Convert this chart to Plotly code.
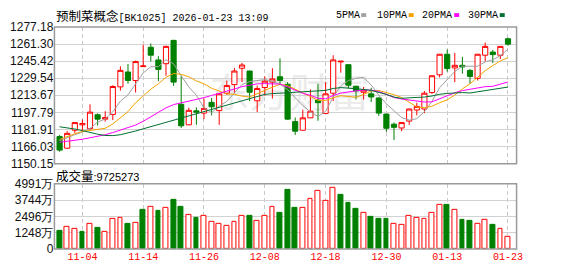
import plotly.graph_objects as go

# ---------------- data ----------------
dates = ["10-30", "10-31", "11-03", "11-04", "11-05", "11-06", "11-07", "11-10", "11-11", "11-12",
         "11-13", "11-14", "11-17", "11-18", "11-19", "11-20", "11-21", "11-24", "11-25", "11-26",
         "11-27", "11-28", "12-01", "12-02", "12-03", "12-04", "12-05", "12-08", "12-09", "12-10",
         "12-11", "12-12", "12-15", "12-16", "12-17", "12-18", "12-19", "12-22", "12-23", "12-24",
         "12-25", "12-26", "12-29", "12-30", "12-31", "01-05", "01-06", "01-07", "01-08", "01-09",
         "01-12", "01-13", "01-14", "01-15", "01-16", "01-19", "01-20", "01-21", "01-22", "01-23"]

opens = [1175.3, 1164.5, 1181.2, 1186.2, 1182.7, 1195.6, 1191.5, 1195.9, 1221.5, 1235.3,
         1227.4, 1240.3, 1258.3, 1246.5, 1243.0, 1264.7, 1205.3, 1186.2, 1199.2, 1197.1,
         1207.1, 1199.4, 1215.6, 1223.6, 1238.8, 1236.2, 1208.6, 1220.9, 1225.9, 1230.9,
         1223.9, 1189.2, 1181.2, 1192.7, 1209.2, 1196.8, 1215.6, 1244.7, 1242.1, 1222.1,
         1216.5, 1215.0, 1211.2, 1196.2, 1186.8, 1183.3, 1189.7, 1200.0, 1200.9, 1216.2,
         1232.7, 1251.8, 1239.1, 1241.5, 1236.8, 1229.4, 1250.9, 1253.8, 1250.9, 1266.2]

highs = [1176.8, 1180.3, 1188.3, 1191.2, 1205.3, 1196.8, 1198.9, 1223.0, 1240.6, 1242.7,
         1245.9, 1260.6, 1261.8, 1250.0, 1259.7, 1265.2, 1232.0, 1202.1, 1202.4, 1210.6,
         1211.2, 1215.0, 1227.4, 1239.1, 1243.8, 1236.5, 1222.7, 1231.2, 1238.8, 1248.0,
         1225.9, 1193.0, 1200.3, 1219.1, 1224.4, 1225.9, 1250.9, 1245.6, 1242.4, 1222.4,
         1221.5, 1220.6, 1211.5, 1196.5, 1188.3, 1188.6, 1201.2, 1206.8, 1217.7, 1232.1,
         1252.1, 1256.2, 1253.0, 1249.4, 1238.2, 1252.1, 1262.7, 1255.9, 1259.4, 1267.1]

lows = [1161.2, 1164.2, 1178.6, 1180.3, 1181.8, 1185.6, 1189.2, 1190.6, 1218.0, 1224.4,
        1216.2, 1240.0, 1245.0, 1226.8, 1231.8, 1222.4, 1183.3, 1185.9, 1186.2, 1191.5,
        1195.0, 1186.2, 1214.1, 1215.6, 1225.9, 1208.3, 1198.0, 1213.3, 1210.6, 1223.0,
        1191.0, 1176.8, 1180.9, 1192.4, 1190.0, 1196.5, 1208.3, 1234.7, 1220.0, 1209.7,
        1209.7, 1207.4, 1194.5, 1179.7, 1172.1, 1180.3, 1186.2, 1195.0, 1197.1, 1215.0,
        1230.3, 1235.6, 1225.9, 1233.8, 1224.4, 1227.4, 1245.0, 1243.6, 1247.4, 1259.7]

closes = [1162.7, 1178.3, 1188.3, 1187.4, 1198.0, 1191.5, 1193.0, 1221.8, 1236.8, 1227.4,
          1245.0, 1240.9, 1250.9, 1237.7, 1259.1, 1225.9, 1185.3, 1199.7, 1198.0, 1201.5,
          1203.0, 1215.0, 1222.7, 1236.2, 1241.8, 1216.5, 1220.0, 1226.8, 1228.8, 1227.4,
          1191.5, 1180.3, 1192.7, 1198.9, 1206.8, 1215.0, 1246.5, 1245.3, 1223.0, 1217.7,
          1218.6, 1212.1, 1197.1, 1183.0, 1183.9, 1188.3, 1200.9, 1203.3, 1215.6, 1231.8,
          1251.8, 1238.5, 1241.5, 1240.0, 1231.2, 1251.8, 1259.1, 1251.5, 1259.1, 1261.2]

ma5 = [1171.5, 1174.5, 1177.0, 1179.5, 1182.9, 1188.7, 1191.6, 1198.3, 1208.2, 1214.1,
       1224.8, 1234.4, 1240.2, 1240.4, 1246.7, 1242.9, 1231.8, 1221.5, 1213.6, 1202.1,
       1197.5, 1203.4, 1208.0, 1215.7, 1223.7, 1226.4, 1227.4, 1228.3, 1226.8, 1223.9,
       1218.9, 1211.0, 1204.1, 1198.2, 1194.0, 1198.7, 1212.0, 1222.5, 1227.3, 1229.5,
       1230.2, 1223.3, 1213.7, 1205.7, 1198.9, 1192.9, 1190.6, 1191.9, 1198.4, 1208.0,
       1220.7, 1228.2, 1235.8, 1240.7, 1240.6, 1240.6, 1244.7, 1246.7, 1250.5, 1256.5]

ma10 = [1172.5, 1175.5, 1178.0, 1180.0, 1181.0, 1182.0, 1183.0, 1187.0, 1193.0, 1198.5,
        1206.8, 1213.0, 1219.3, 1224.3, 1230.4, 1233.9, 1233.1, 1230.9, 1227.0, 1224.4,
        1220.2, 1217.6, 1214.8, 1214.6, 1212.9, 1212.0, 1215.4, 1218.2, 1221.2, 1223.8,
        1222.7, 1219.2, 1216.2, 1212.5, 1209.0, 1208.8, 1211.5, 1213.3, 1212.7, 1211.8,
        1214.5, 1217.7, 1218.1, 1216.5, 1214.2, 1211.6, 1207.0, 1202.8, 1202.1, 1203.5,
        1206.8, 1209.4, 1213.9, 1219.6, 1224.3, 1230.6, 1236.5, 1241.3, 1245.6, 1248.6]

ma20 = [1170.0, 1170.8, 1171.6, 1172.8, 1174.2, 1175.5, 1177.0, 1179.0, 1181.5, 1183.5,
        1186.0, 1189.5, 1193.5, 1197.5, 1202.0, 1205.0, 1206.5, 1208.0, 1209.8, 1211.5,
        1213.5, 1215.3, 1217.0, 1219.5, 1221.7, 1222.9, 1224.3, 1224.5, 1224.1, 1224.1,
        1221.4, 1218.4, 1215.5, 1213.6, 1210.9, 1210.4, 1213.5, 1215.7, 1217.0, 1217.8,
        1218.6, 1218.4, 1217.2, 1214.5, 1211.6, 1210.2, 1209.2, 1208.1, 1207.4, 1207.6,
        1210.6, 1213.5, 1216.0, 1218.0, 1219.3, 1221.1, 1221.7, 1222.0, 1223.8, 1226.0]

ma30 = [1184.4, 1183.5, 1182.3, 1180.8, 1179.0, 1177.5, 1176.3, 1176.2, 1177.0, 1178.5,
        1180.5, 1182.5, 1184.5, 1186.5, 1189.0, 1191.0, 1193.0, 1195.0, 1197.0, 1199.0,
        1201.0, 1203.0, 1205.0, 1207.0, 1209.0, 1211.0, 1213.0, 1214.5, 1215.2, 1215.6,
        1216.5, 1216.6, 1216.8, 1217.1, 1217.4, 1218.2, 1220.0, 1220.8, 1220.3, 1220.0,
        1219.1, 1218.2, 1216.4, 1214.5, 1212.0, 1210.8, 1211.3, 1211.4, 1212.0, 1213.0,
        1214.6, 1215.4, 1216.1, 1216.2, 1215.8, 1217.0, 1218.3, 1219.1, 1220.1, 1221.3]

volumes = [1412, 1680, 1534, 1339, 1899, 1631, 1339, 2338, 2411, 1924,
           1997, 2995, 3214, 2922, 3117, 3799, 3214, 2630, 2411, 2532,
           2045, 1899, 1802, 2045, 2532, 2557, 2167, 2532, 3214, 2776,
           4529, 3141, 3117, 3847, 4432, 3653, 4675, 4164, 3506, 3068,
           2776, 2484, 2338, 2338, 1899, 1826, 2557, 2411, 2338, 2776,
           3360, 3385, 2995, 2265, 2192, 1899, 2265, 1826, 1534, 972.5273]

price_ticks = [1150.15, 1166.03, 1181.91, 1197.79, 1213.67, 1229.54, 1245.42, 1261.30, 1277.18]
price_tick_text = ["1150.15", "1166.03", "1181.91", "1197.79", "1213.67",
                   "1229.54", "1245.42", "1261.30", "1277.18"]
vol_ticks = [0, 1248, 2496, 3744, 4991]
vol_tick_text = ["0", "1248万", "2496万", "3744万", "4991万"]
date_ticks = ["11-04", "11-14", "11-26", "12-08", "12-18", "12-30", "01-13", "01-23"]

title_name = "预制菜概念"
title_rest = "[BK1025] 2026-01-23 13:09"
volume_label = "成交量"
volume_last = "9725273"
ma_names = ["5PMA", "10PMA", "20PMA", "30PMA"]
watermark = "东方财富"

# ---------------- style ----------------
W, H = 578, 276
RED = "#ff0000"
GREEN = "#008000"
MA_COLORS = ["#a0a0a0", "#f5a300", "#ff00ff", "#006f30"]
FRAME = "#9a9a9a"
GRID = "#d2d2d2"
VGRID = "#c8c8c8"
MONO = "Liberation Mono, DejaVu Sans Mono, monospace"
SANS = "Liberation Sans, Arial, sans-serif"
CJK = "Noto Sans CJK SC, sans-serif"

PL, PR = 55, 522          # plot left / right (px)
PT, PB = 21, 165          # price panel top / bottom
VT, VB = 186.3, 255       # volume panel top / bottom
XR = [-0.68, 60.13]


def fx(x):
    return x / W


def fy(y):
    return 1 - y / H


fig = go.Figure()

fig.add_trace(go.Candlestick(
    x=dates, open=opens, high=highs, low=lows, close=closes,
    increasing=dict(line=dict(color=RED, width=1), fillcolor="white"),
    decreasing=dict(line=dict(color=GREEN, width=1), fillcolor=GREEN),
    whiskerwidth=0, xaxis="x", yaxis="y", showlegend=False, hoverinfo="skip"))

for series, col in zip([ma5, ma10, ma20, ma30], MA_COLORS):
    fig.add_trace(go.Scatter(x=dates, y=series, mode="lines",
                             line=dict(color=col, width=1),
                             xaxis="x", yaxis="y", showlegend=False, hoverinfo="skip"))

vol_up = [False] + [closes[i] > closes[i - 1] for i in range(1, len(closes))]
fig.add_trace(go.Bar(
    x=dates, y=volumes, width=0.62,
    marker=dict(color=["white" if u else GREEN for u in vol_up],
                line=dict(color=[RED if u else GREEN for u in vol_up], width=1)),
    xaxis="x2", yaxis="y2", showlegend=False, hoverinfo="skip"))

common_x = dict(domain=[fx(PL), fx(PR)], type="category", range=XR,
                tickmode="array", tickvals=date_ticks, showgrid=True,
                gridcolor=VGRID, griddash="4px,3px", gridwidth=1,
                zeroline=False, showline=False, ticks="", fixedrange=True)

fig.update_layout(
    width=W, height=H, margin=dict(l=0, r=0, t=0, b=0),
    paper_bgcolor="white", plot_bgcolor="white", showlegend=False,
    boxgap=0.32, boxgroupgap=0, bargap=0,
    xaxis=dict(common_x, anchor="y", showticklabels=False,
               rangeslider=dict(visible=False)),
    xaxis2=dict(common_x, anchor="y2", showticklabels=True,
                tickfont=dict(family=MONO, size=10, color=RED)),
    yaxis=dict(domain=[fy(PB), fy(PT)], range=[price_ticks[0], price_ticks[-1]],
               tickmode="array", tickvals=price_ticks, ticktext=price_tick_text,
               showgrid=True, gridcolor=GRID, gridwidth=1, zeroline=False,
               showline=False, ticks="", tickfont=dict(family=SANS, size=12, color="#111"),
               fixedrange=True),
    yaxis2=dict(domain=[fy(VB), fy(VT)], range=[0, vol_ticks[-1]],
                tickmode="array", tickvals=vol_ticks, ticktext=vol_tick_text,
                showgrid=True, gridcolor=GRID, gridwidth=1, zeroline=False,
                showline=False, ticks="", tickfont=dict(family=SANS, size=12, color="#111"),
                fixedrange=True),
)

shapes = [
    # watermark behind everything
    dict(type="rect", xref="paper", yref="paper", x0=fx(195), x1=fx(390), y0=fy(122), y1=fy(66),
         line=dict(width=0), fillcolor="rgba(0,0,0,0)", layer="below",
         label=dict(text=watermark, font=dict(family=CJK, size=40, color="#ebebeb"),
                    textposition="middle center")),
    # frames
    dict(type="rect", xref="paper", yref="paper", x0=fx(PL), x1=fx(PR), y0=fy(PB), y1=fy(PT),
         line=dict(color=FRAME, width=1.5), fillcolor="rgba(0,0,0,0)", layer="above"),
    dict(type="rect", xref="paper", yref="paper", x0=fx(PL), x1=fx(PR), y0=fy(VB), y1=fy(VT),
         line=dict(color=FRAME, width=1.5), fillcolor="rgba(0,0,0,0)", layer="above"),
]

annotations = [
    dict(xref="paper", yref="paper", x=fx(55), y=fy(8.5), xanchor="left", yanchor="middle",
         showarrow=False,
         text=f"<span style='font-family:{CJK};font-size:12.5px'>{title_name}</span>"
              f"<span style='font-family:{MONO};font-size:10px'>{title_rest}</span>",
         font=dict(color="#000", size=12)),
    dict(xref="paper", yref="paper", x=fx(55), y=fy(178), xanchor="left", yanchor="middle",
         showarrow=False,
         text=f"<span style='font-family:{CJK};font-size:12.5px'>{volume_label}</span>"
              f"<span style='font-family:{SANS};font-size:11px'>:{volume_last}</span>",
         font=dict(color="#000", size=12)),
]

legend_text_x = [337, 379, 424, 471]
legend_box_x = [365, 413, 459, 505]
for name, col, tx, bx in zip(ma_names, MA_COLORS, legend_text_x, legend_box_x):
    annotations.append(dict(xref="paper", yref="paper", x=fx(tx), y=fy(8.5),
                            xanchor="left", yanchor="middle", showarrow=False,
                            text=name, font=dict(family=MONO, size=10, color="#000")))
    shapes.append(dict(type="rect", xref="paper", yref="paper",
                       x0=fx(bx), x1=fx(bx + 5), y0=fy(10.5), y1=fy(6.5),
                       line=dict(width=0), fillcolor=col, layer="above"))

fig.update_layout(shapes=shapes, annotations=annotations)

fig.write_html("out.html",
               post_script="document.body.style.margin='0';document.body.style.overflow='hidden';")
